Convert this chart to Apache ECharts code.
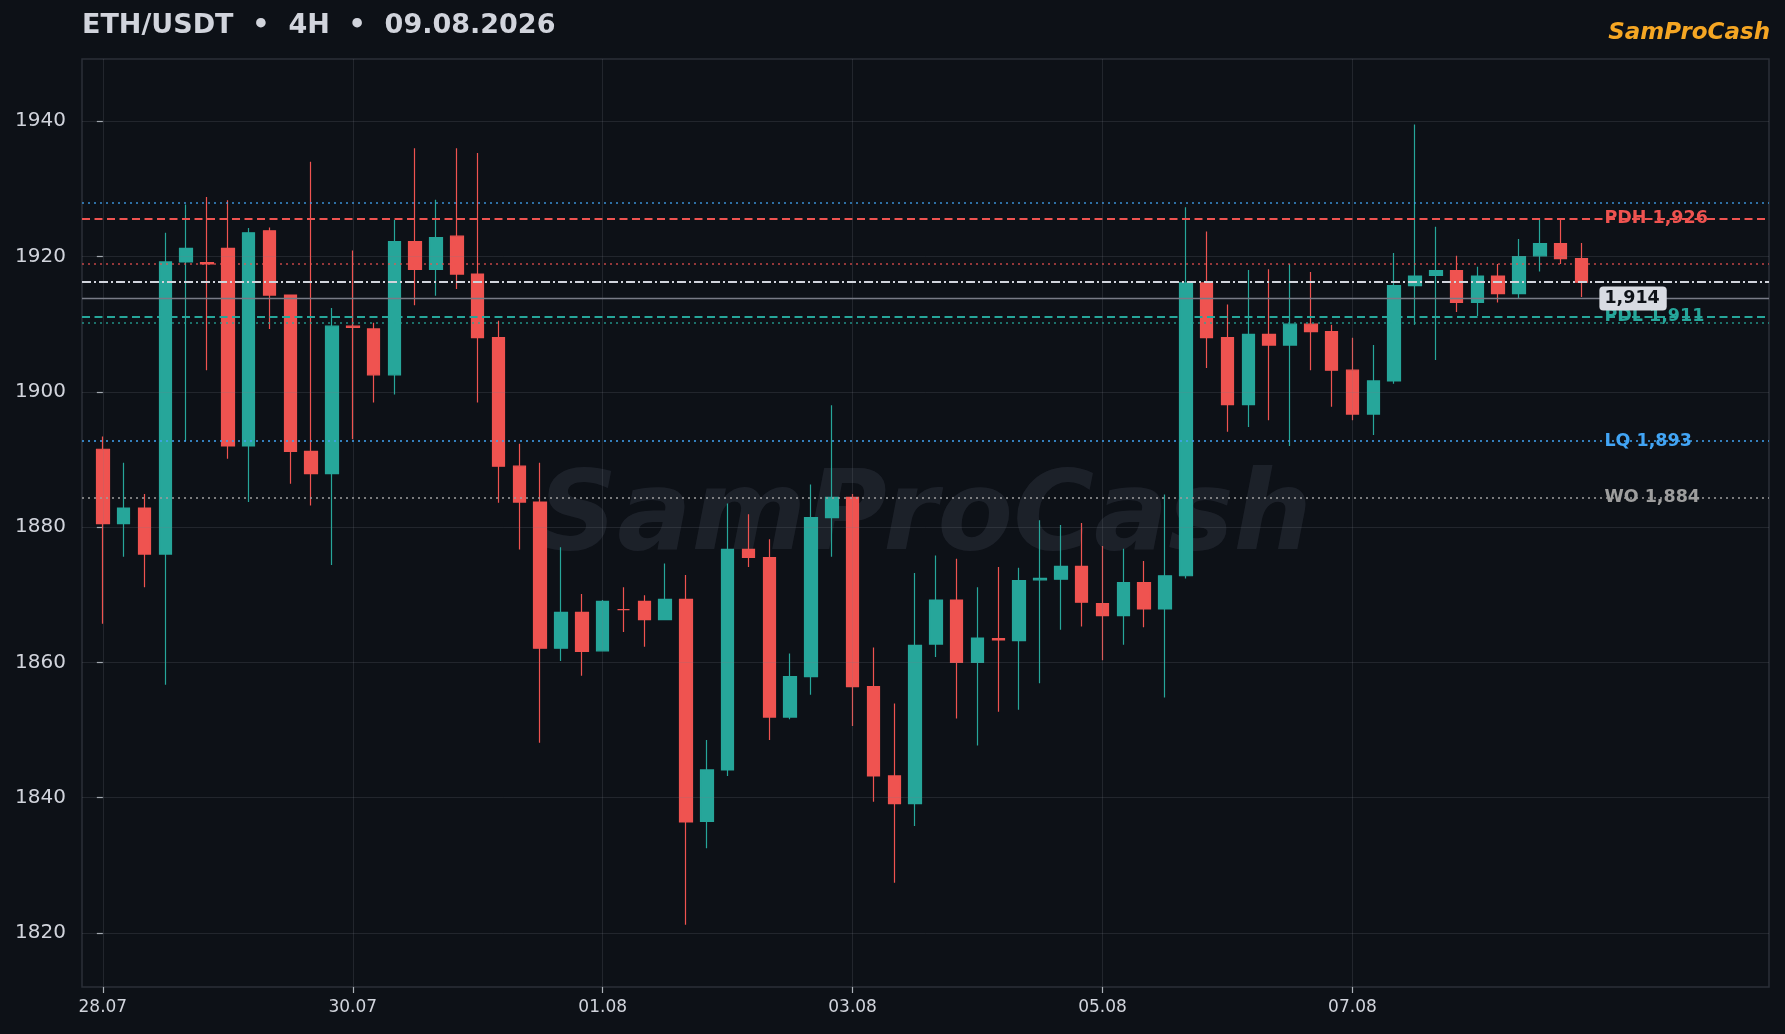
<!DOCTYPE html>
<html>
<head>
<meta charset="utf-8">
<script src="https://cdn.jsdelivr.net/npm/echarts@6/dist/echarts.min.js"></script>
<style>
html,body{margin:0;padding:0;background:#0d1117;}
#chart{width:1785px;height:1034px;}
</style>
</head>
<body>
<div id="chart"></div>
<script>
// ---- data (4H candles from 28.07 00:00) ----
const opens  = [1891.5,1880.5,1882.8,1876.0,1919.2,1919.1,1921.2,1892.0,1923.8,1914.3,1891.2,1887.9,
                1909.7,1909.3,1902.5,1922.2,1918.1,1923.0,1917.4,1908.0,1889.0,1883.7,1862.1,1867.4,
                1861.7,1867.8,1869.0,1866.3,1869.3,1836.5,1844.1,1876.7,1875.5,1851.9,1857.9,1881.4,
                1884.4,1856.4,1843.2,1839.1,1862.7,1869.2,1860.0,1863.5,1863.2,1872.2,1872.3,1874.2,
                1868.7,1866.9,1871.8,1867.9,1872.8,1916.1,1908.0,1898.1,1908.5,1906.9,1910.0,1908.9,
                1903.2,1896.7,1901.6,1915.7,1917.2,1917.9,1913.2,1917.1,1914.5,1920.1,1921.9,1919.7];
const closes = [1880.5,1882.8,1876.0,1919.2,1921.2,1918.9,1892.0,1923.5,1914.3,1891.2,1887.9,1909.7,
                1909.5,1902.5,1922.2,1918.1,1922.8,1917.4,1908.0,1889.0,1883.7,1862.1,1867.4,1861.6,
                1869.0,1867.8,1866.3,1869.3,1836.4,1844.1,1876.7,1875.5,1851.9,1857.9,1881.4,1884.4,
                1856.4,1843.2,1839.1,1862.5,1869.2,1860.0,1863.6,1863.3,1872.1,1872.4,1874.2,1868.9,
                1866.9,1871.8,1867.9,1872.8,1916.1,1908.0,1898.1,1908.5,1906.9,1910.0,1908.9,1903.2,
                1896.7,1901.6,1915.7,1917.1,1917.9,1913.2,1917.1,1914.5,1920.0,1921.9,1919.7,1916.2];
const lows   = [1865.7,1875.6,1871.1,1856.7,1892.7,1903.2,1890.1,1883.7,1909.3,1886.4,1883.2,1874.4,
                1893.0,1898.4,1899.6,1912.8,1914.2,1915.2,1898.4,1883.6,1876.7,1848.1,1860.2,1858.0,
                1861.7,1864.5,1862.3,1866.3,1821.2,1832.5,1843.2,1874.1,1848.5,1851.6,1855.2,1875.6,
                1850.6,1839.4,1827.4,1835.8,1860.8,1851.7,1847.7,1852.7,1853.0,1856.9,1864.8,1865.3,
                1860.3,1862.6,1865.2,1854.8,1872.4,1903.5,1894.1,1894.8,1895.8,1892.0,1903.2,1897.8,
                1895.8,1893.6,1901.2,1909.9,1904.7,1911.8,1911.2,1913.2,1913.8,1917.8,1918.9,1914.0];
const highs  = [1893.4,1889.5,1884.9,1923.5,1927.7,1928.8,1928.3,1924.2,1924.3,1914.3,1934.0,1912.4,
                1920.9,1910.2,1925.4,1936.0,1928.4,1936.0,1935.3,1910.5,1892.3,1889.5,1877.0,1870.1,
                1869.2,1871.1,1869.9,1874.6,1872.9,1848.5,1883.5,1881.9,1878.2,1861.3,1886.3,1898.0,
                1884.9,1862.2,1853.9,1873.2,1875.8,1875.3,1871.1,1874.1,1874.0,1881.0,1880.3,1880.6,
                1877.2,1876.8,1875.0,1884.8,1927.3,1923.7,1912.9,1918.0,1918.1,1918.9,1917.7,1909.9,
                1908.0,1906.9,1920.5,1939.5,1924.4,1920.1,1918.5,1918.9,1922.6,1925.7,1925.7,1922.0];

const xTickIdx    = [0, 12, 24, 36, 48, 60];
const xTickLabels = ['28.07', '30.07', '01.08', '03.08', '05.08', '07.08'];
const yTicks      = [1820, 1840, 1860, 1880, 1900, 1920, 1940];

const levelTags   = ['PDH', 'PDL', 'LQ', 'WO'];
const levelPrices = [1925.6, 1911.1, 1892.7, 1884.4];
const zonePrices  = [1928.0, 1918.9, 1910.2];   // upper blue, red, teal dotted bands
const refPrice    = 1916.2;                     // dash-dot reference
const lastPrice   = 1913.8;                     // current price tag

// ---- styles ----
const BG = '#0d1117';
const UP = '#26a69a', DOWN = '#ef5350', BLUE = '#42a5f5', GREY = '#9e9e9e';
const FONT = 'DejaVu Sans';
const levelColor = { PDH: DOWN, PDL: UP, LQ: BLUE, WO: GREY };
const levelDash  = { PDH: [8, 4.5], PDL: [8, 4.5], LQ: [2, 4], WO: [2, 4] };
const levelWidth = { PDH: 2, PDL: 2, LQ: 1.6, WO: 1.6 };
const zoneColor  = ['rgba(66,165,245,0.85)', 'rgba(239,83,80,0.8)', 'rgba(38,166,154,0.85)'];

const N = closes.length;
const fmt = v => Math.round(v).toLocaleString('en-US');

const candleData = opens.map((o, i) => [i, o, closes[i], lows[i], highs[i]]);

const gridColor = 'rgba(120,125,135,0.2)';
const markLines = [];
xTickIdx.forEach(v => markLines.push({ xAxis: v, lineStyle: { color: gridColor, width: 1, type: 'solid' } }));
yTicks.forEach(v => markLines.push({ yAxis: v, lineStyle: { color: gridColor, width: 1, type: 'solid' } }));
zonePrices.forEach((v, i) => markLines.push({ yAxis: v, lineStyle: { color: zoneColor[i], width: 1.6, type: [2, 4] } }));
levelTags.forEach((t, i) => markLines.push({ yAxis: levelPrices[i], lineStyle: { color: levelColor[t], width: levelWidth[t], type: levelDash[t] } }));
markLines.push({ yAxis: refPrice, lineStyle: { color: '#d1d4dc', width: 1.8, type: [9, 3, 2, 3] } });
markLines.push({ yAxis: lastPrice, lineStyle: { color: '#787b86', width: 1.3, type: 'solid' } });

const labelData = levelTags.map((t, i) => ({
  value: [N, levelPrices[i]],
  label: { color: levelColor[t], formatter: t + ' ' + fmt(levelPrices[i]) }
}));
labelData.push({
  value: [N, lastPrice],
  label: {
    color: '#0d1117', formatter: fmt(lastPrice), backgroundColor: '#d8dbe2',
    padding: [3, 7, 3, 5], borderRadius: 4, offset: [-3, 0], distance: 0
  }
});

const chart = echarts.init(document.getElementById('chart'), null, { renderer: 'canvas' });
chart.setOption({
  backgroundColor: BG,
  animation: false,
  textStyle: { fontFamily: FONT },
  grid: {
    left: 82, right: 16, top: 59, bottom: 47,
    show: true, borderColor: '#2b2f38', borderWidth: 1.5, backgroundColor: BG,
    outerBoundsMode: 'none', containLabel: false
  },
  xAxis: {
    type: 'value', min: -1, max: 80,
    axisLine: { show: false },
    splitLine: { show: false },
    axisTick: { show: true, customValues: xTickIdx, length: 6, lineStyle: { color: '#aeb3bb', width: 1.2 } },
    axisLabel: {
      customValues: xTickIdx, margin: 12, color: '#d1d4dc', fontSize: 17, fontFamily: FONT,
      formatter: v => xTickLabels[xTickIdx.indexOf(v)] || ''
    }
  },
  yAxis: {
    type: 'value', min: 1812.0, max: 1949.2, scale: true,
    axisLine: { show: false },
    splitLine: { show: false },
    axisTick: { show: true, customValues: yTicks, length: 6, lineStyle: { color: '#aeb3bb', width: 1.2 } },
    axisLabel: {
      customValues: yTicks, margin: 16, color: '#d1d4dc', fontSize: 20, fontFamily: FONT,
      formatter: v => String(v)
    }
  },
  graphic: [
    { type: 'text', x: 925, y: 520, z: 1, silent: true,
      style: { text: 'SamProCash', fill: 'rgba(190,200,230,0.09)', font: 'italic bold 110px "DejaVu Sans"',
               textAlign: 'center', textVerticalAlign: 'middle' } },
    { type: 'text', x: 82, y: 26, z: 10,
      style: { text: 'ETH/USDT  \u2022  4H  \u2022  09.08.2026', fill: '#d1d4dc', font: 'bold 27px "DejaVu Sans"',
               textAlign: 'left', textVerticalAlign: 'middle' } },
    { type: 'text', x: 1770, y: 33, z: 10,
      style: { text: 'SamProCash', fill: '#f5a623', font: 'italic bold 23px "DejaVu Sans"',
               textAlign: 'right', textVerticalAlign: 'middle' } }
  ],
  series: [
    {
      type: 'candlestick',
      data: candleData,
      encode: { x: 0, y: [1, 2, 3, 4] },
      barWidth: 13,
      itemStyle: {
        color: UP, color0: DOWN, borderColor: UP, borderColor0: DOWN, borderColorDoji: DOWN, borderWidth: 1.2
      },
      markLine: {
        silent: true, symbol: ['none', 'none'], animation: false,
        label: { show: false },
        data: markLines
      }
    },
    {
      type: 'scatter',
      z: 10,
      symbolSize: 0,
      silent: true,
      itemStyle: { opacity: 1 },
      data: labelData,
      label: {
        show: true, position: 'right', distance: 2, opacity: 1,
        fontFamily: FONT, fontWeight: 'bold', fontSize: 17.5
      }
    }
  ]
});
</script>
</body>
</html>
